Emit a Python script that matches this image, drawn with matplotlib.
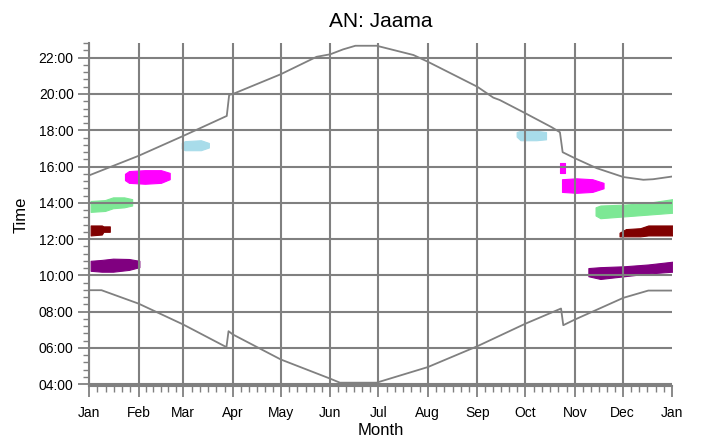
import matplotlib
matplotlib.use("Agg")
import matplotlib.pyplot as plt
from matplotlib.ticker import FixedLocator, FuncFormatter

plt.rcParams['font.family'] = ['Liberation Sans', 'DejaVu Sans']

GRAY = '#808080'

# month boundaries (day of year) and labels
month_days = [0, 31, 59, 90, 120, 151, 181, 212, 243, 273, 304, 334, 365]
month_names = ['Jan', 'Feb', 'Mar', 'Apr', 'May', 'Jun',
               'Jul', 'Aug', 'Sep', 'Oct', 'Nov', 'Dec', 'Jan']

# sunset (upper grey line), hours
sunset_day = [0, 31, 59, 86.2, 87.7, 90, 120, 142.4, 151, 159, 166.7, 180,
              203, 212, 243, 253, 257, 273, 289.5, 294.7, 296.4, 304,
              317.7, 334.4, 346.9, 353, 365]
sunset_time = [15.51, 16.59, 17.69, 18.79, 19.95, 20.0, 21.09, 22.05, 22.19,
               22.46, 22.66, 22.66, 22.15, 21.78, 20.40, 19.80, 19.67, 18.94,
               18.17, 17.89, 16.79, 16.46, 15.91, 15.42, 15.27, 15.30, 15.45]

# sunrise (lower grey line), hours
sunrise_day = [0, 7.8, 31, 58.9, 86.0, 87.3, 90, 120, 151, 157, 180, 181,
               212, 243, 273, 295.4, 296.8, 304, 334.4, 350, 365]
sunrise_time = [9.18, 9.18, 8.44, 7.29, 6.04, 6.92, 6.74, 5.36, 4.30, 4.08,
                4.08, 4.11, 4.94, 6.09, 7.33, 8.17, 7.25, 7.56, 8.76, 9.16, 9.16]

# observation windows: day of year, lower / upper time
green_jan_day = [1, 10, 15, 22, 27]
green_jan_lo = [13.5, 13.55, 13.7, 13.75, 13.85]
green_jan_hi = [14.1, 14.15, 14.3, 14.3, 14.2]

red_jan_day = [1, 8, 9, 13]
red_jan_lo = [12.2, 12.25, 12.4, 12.4]
red_jan_hi = [12.75, 12.75, 12.7, 12.7]

purple_jan_day = [1, 8, 15, 25, 31.5]
purple_jan_lo = [10.25, 10.2, 10.2, 10.3, 10.45]
purple_jan_hi = [10.8, 10.85, 10.92, 10.9, 10.8]

magenta_feb_day = [22.5, 25, 35, 45, 50.5]
magenta_feb_lo = [15.25, 15.1, 15.05, 15.1, 15.3]
magenta_feb_hi = [15.6, 15.75, 15.8, 15.8, 15.65]

blue_mar_day = [58, 60, 70, 75]
blue_mar_lo = [17.0, 16.9, 16.9, 17.05]
blue_mar_hi = [17.3, 17.4, 17.45, 17.3]

blue_oct_day = [267.6, 270, 280, 286]
blue_oct_lo = [17.65, 17.45, 17.45, 17.5]
blue_oct_hi = [17.9, 17.97, 17.97, 17.9]

magenta_oct_day = [294.7, 297.9]
magenta_oct_lo = [15.67, 15.67]
magenta_oct_hi = [16.22, 16.22]

magenta_nov_day = [296, 305, 315, 322]
magenta_nov_lo = [14.6, 14.55, 14.6, 14.8]
magenta_nov_hi = [15.3, 15.35, 15.3, 15.1]

green_dec_day = [317, 320, 335, 350, 365]
green_dec_lo = [13.3, 13.15, 13.25, 13.35, 13.45]
green_dec_hi = [13.75, 13.85, 13.9, 14.0, 14.2]

red_dec_day = [332, 336, 345, 350, 365]
red_dec_lo = [12.15, 12.15, 12.15, 12.2, 12.2]
red_dec_hi = [12.35, 12.55, 12.6, 12.75, 12.75]

purple_dec_day = [312.5, 320, 335, 350, 365]
purple_dec_lo = [9.95, 9.8, 9.95, 10.1, 10.2]
purple_dec_hi = [10.4, 10.45, 10.5, 10.6, 10.75]

GREEN = '#7de895'
RED = '#800000'
PURPLE = '#800080'
MAGENTA = '#ff00ff'
BLUE = '#a8dcea'

windows = [
    (green_jan_day, green_jan_lo, green_jan_hi, GREEN),
    (red_jan_day, red_jan_lo, red_jan_hi, RED),
    (purple_jan_day, purple_jan_lo, purple_jan_hi, PURPLE),
    (magenta_feb_day, magenta_feb_lo, magenta_feb_hi, MAGENTA),
    (blue_mar_day, blue_mar_lo, blue_mar_hi, BLUE),
    (blue_oct_day, blue_oct_lo, blue_oct_hi, BLUE),
    (magenta_oct_day, magenta_oct_lo, magenta_oct_hi, MAGENTA),
    (magenta_nov_day, magenta_nov_lo, magenta_nov_hi, MAGENTA),
    (green_dec_day, green_dec_lo, green_dec_hi, GREEN),
    (red_dec_day, red_dec_lo, red_dec_hi, RED),
    (purple_dec_day, purple_dec_lo, purple_dec_hi, PURPLE),
]

fig = plt.figure(figsize=(7.01, 4.41), dpi=100)
ax = fig.add_axes([0.127, 0.124, 0.832, 0.778])

Y_MIN, Y_MAX = 3.88, 22.8
ax.set_xlim(0, 365)
ax.set_ylim(Y_MIN, Y_MAX)

for d, lo, hi, c in windows:
    ax.fill_between(d, lo, hi, color=c, lw=0.8, edgecolor=c, zorder=1)

# grid (no line at the right-hand Jan and none at the top)
for m in month_days[:-1]:
    ax.axvline(m, color=GRAY, lw=1.5, zorder=2)
for h in range(4, 23, 2):
    ax.axhline(h, color=GRAY, lw=1.5, zorder=2)

ax.plot(sunset_day, sunset_time, color=GRAY, lw=1.3, zorder=3)
ax.plot(sunrise_day, sunrise_time, color=GRAY, lw=1.3, zorder=3)

# ticks
ax.xaxis.set_major_locator(FixedLocator(month_days))
ax.set_xticklabels(month_names)
minor_x = []
for a, b in zip(month_days[:-1], month_days[1:]):
    minor_x += [a + (b - a) * k / 6 for k in range(1, 6)]
ax.xaxis.set_minor_locator(FixedLocator(minor_x))

ax.yaxis.set_major_locator(FixedLocator(range(4, 23, 2)))
ax.yaxis.set_major_formatter(FuncFormatter(lambda v, p: '%02d:00' % int(round(v))))
ax.yaxis.set_minor_locator(FixedLocator([4 + 0.4 * k for k in range(0, 48)]))

ax.tick_params(which='major', length=8, width=1.3, color=GRAY, labelsize=10)
ax.tick_params(axis='x', which='major', pad=6)
ax.tick_params(axis='y', which='major', pad=3)
ax.tick_params(which='minor', length=4, width=1.0, color=GRAY)

for s in ['top', 'right']:
    ax.spines[s].set_visible(False)
for s in ['left', 'bottom']:
    ax.spines[s].set_color(GRAY)
    ax.spines[s].set_linewidth(1.5)

ax.set_xlabel('Month', fontsize=12, labelpad=2)
ax.set_ylabel('Time', fontsize=12, labelpad=7)
ax.set_title('AN: Jaama', fontsize=15, pad=12)

fig.savefig('out.png', dpi=100)
